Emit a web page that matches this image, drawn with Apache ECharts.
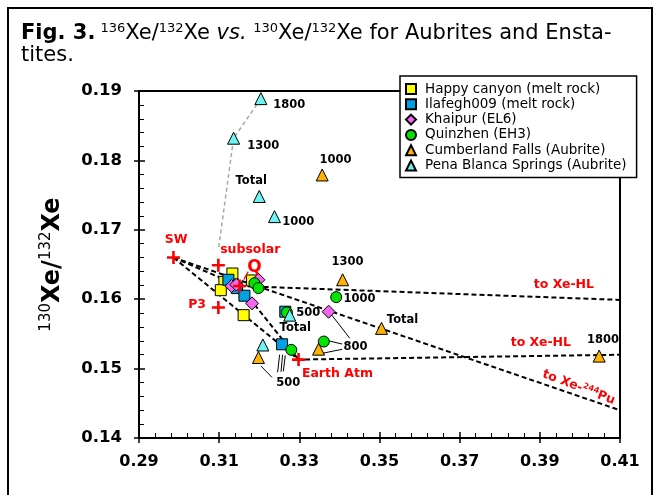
<!DOCTYPE html>
<html><head><meta charset="utf-8">
<script src="https://cdn.jsdelivr.net/npm/echarts@6/dist/echarts.min.js"></script>
<style>html,body{margin:0;padding:0;background:#fff}#c{width:660px;height:495px}</style>
</head><body><div id="c"></div>
<script>
// ---- data (x = 136Xe/132Xe, y = 130Xe/132Xe) ----
const happyCanyon = [[0.3182,0.1627],[0.3133,0.1637],[0.3113,0.1625],[0.3104,0.1613],[0.3161,0.1577]];
const ilafegh = [[0.3123,0.1628],[0.3144,0.1616],[0.3163,0.1605],[0.3265,0.1582],[0.3257,0.1535]];
const khaipur = [[0.3198,0.1628],[0.3131,0.1619],[0.3143,0.1621],[0.3182,0.1594],[0.3373,0.1582]];
const quinzhen = [[0.3188,0.1623],[0.3198,0.1616],[0.3269,0.1581],[0.3280,0.1527],[0.3392,0.1603],[0.3361,0.1539]];
const cumberland = [[0.3357,0.1779],[0.3408,0.1628],[0.3505,0.1558],[0.3348,0.1528],[0.3198,0.1516],[0.4048,0.1518]];
const penaBlanca = [[0.3204,0.1889],[0.3136,0.1832],[0.3200,0.1748],[0.3238,0.1719],[0.3276,0.1577],[0.3209,0.1534]];

const SW = [0.2986,0.1660];
const subsolar = [0.3098,0.1649];
const P3 = [0.3098,0.1588];
const Qpt = [0.3151,0.1619];
const earthAtm = [0.3298,0.1513];
const xeHLa = [0.41,0.1599];
const xeHLb = [0.41,0.1520];
const xePu = [0.41,0.1440];
const pbsTrend = [[0.3099,0.1675],[0.3136,0.1832],[0.3204,0.1889]];

const seriesNames = ['Happy canyon (melt rock)','Ilafegh009 (melt rock)','Khaipur (EL6)','Quinzhen (EH3)','Cumberland Falls (Aubrite)','Pena Blanca Springs (Aubrite)'];
const stepLabels = [
  ['1800',0.3275,0.18798],['1300',0.3210,0.18207],['1000',0.3390,0.18006],['Total',0.3180,0.17703],
  ['1000',0.32975,0.17112],['1300',0.3420,0.16536],['1000',0.3450,0.16003],['500',0.33225,0.15801],
  ['Total',0.3290,0.15585],['Total',0.35575,0.1570],['800',0.3440,0.15311],['1800',0.40575,0.15412],['500',0.32725,0.14793]
];
const redLabels = [
  ['SW',0.29925,0.16853,12.5],['subsolar',0.31775,0.16709,12.5],['Q',0.3188,0.1645,17],['P3',0.3045,0.15916,12.5],
  ['Earth Atm',0.3395,0.14922,12.5],['to Xe-HL',0.3960,0.16205,12.5],['to Xe-HL',0.39025,0.15369,12.5]
];
const leaders = [
  [[0.33775,0.15797],[0.34258,0.15437]],
  [[0.34068,0.15354],[0.33718,0.15402]],
  [[0.34068,0.15278],[0.33568,0.1522]],
  [[0.32043,0.15037],[0.32318,0.14874]],
  [[0.32508,0.1520],[0.32458,0.14947]],
  [[0.32583,0.1520],[0.32543,0.14955]],
  [[0.3265,0.1519],[0.3260,0.14960]]
];
const qLeader = [[0.31613,0.16282],[0.31725,0.16397]];

const FONT = '"DejaVu Sans", sans-serif';
const chart = echarts.init(document.getElementById('c'), null, {renderer:'canvas'});

const dash = (data) => ({type:'line', data, showSymbol:false, silent:true, z:1, animation:false,
  lineStyle:{color:'#000', width:2, type:[5,3]}, xAxisIndex:0, yAxisIndex:0});

const markerStyle = (color) => ({color, borderColor:'#000', borderWidth:1, opacity:1});
const series = [
  dash([SW,Qpt,xeHLa]), dash([SW,earthAtm,xeHLb]), dash([SW,xePu]), dash([Qpt,earthAtm]),
  {type:'line', data:pbsTrend, showSymbol:false, silent:true, z:1, animation:false,
   lineStyle:{color:'#a8a8a8', width:1.5, type:[4,3]}},
];
leaders.forEach(seg => series.push({type:'line', data:seg, showSymbol:false, silent:true, z:1, animation:false,
  lineStyle:{color:'#000', width:1}}));
series.push({type:'line', data:qLeader, showSymbol:false, silent:true, z:6, animation:false, lineStyle:{color:'#ff0000', width:1.2}});
const pts = [
  [seriesNames[0], happyCanyon, 'rect', 11, '#ffff00'],
  [seriesNames[1], ilafegh, 'rect', 11, '#00a0e4'],
  [seriesNames[2], khaipur, 'diamond', 13, '#f266f2'],
  [seriesNames[3], quinzhen, 'circle', 11, '#00e400'],
  [seriesNames[4], cumberland, 'triangle', 12, '#ffb300'],
  [seriesNames[5], penaBlanca, 'triangle', 12, '#6ef2f2'],
];
pts.forEach(([name,data,symbol,size,color],i) => series.push({
  type:'scatter', name, data, symbol, symbolSize:size, itemStyle:markerStyle(color), z:3+i*0.01, animation:false
}));
series.push({type:'scatter', data:[SW,subsolar,P3,Qpt,earthAtm], symbol:'path://M4,0h2v4h4v2h-4v4h-2v-4h-4v-2h4z',
  symbolSize:13, itemStyle:{color:'#ff0000', opacity:1}, z:5, silent:true, animation:false});
const lblBase = {show:true, position:'inside', formatter:'{b}', fontFamily:FONT, fontWeight:'bold', opacity:1,
  textBorderWidth:0, textBorderColor:'transparent', textShadowBlur:0};
series.push({type:'scatter', symbolSize:0, silent:true, z:6, animation:false, itemStyle:{color:'#000', opacity:1},
  data: stepLabels.map(([t,x,y]) => ({name:t, value:[x,y]})),
  label:Object.assign({}, lblBase, {color:'#000', fontSize:11.5})});
series.push({type:'scatter', symbolSize:0, silent:true, z:6, animation:false, itemStyle:{color:'#ff0000', opacity:1},
  data: redLabels.map(([t,x,y,fs]) => ({name:t, value:[x,y], label:{fontSize:fs}})),
  label:Object.assign({}, lblBase, {color:'#ff0000', fontSize:12.5})});
series.push({type:'scatter', symbolSize:0, silent:true, z:6, animation:false, itemStyle:{color:'#ff0000', opacity:1},
  data:[{name:'pu', value:[0.39975,0.14735]}],
  label:{show:true, position:'inside', rotate:-21, opacity:1, formatter:'{n|to Xe-}{s|244}{n|Pu}', textBorderWidth:0,
    rich:{n:{color:'#ff0000', fontFamily:FONT, fontWeight:'bold', fontSize:12.5, lineHeight:14, verticalAlign:'bottom', textBorderWidth:0},
          s:{color:'#ff0000', fontFamily:FONT, fontWeight:'bold', fontSize:8, lineHeight:8, verticalAlign:'top', textBorderWidth:0}}}});

const axisBase = (min,max,interval) => ({type:'value', min, max, interval, scale:false,
  splitLine:{show:false}});

const option = {
  animation:false,
  backgroundColor:'#fff',
  title:{
    left:21, top:17, padding:[5,0,5,0],
    text:'{b|Fig. 3.} {s|136}{n|Xe/}{s|132}{n|Xe }{i|vs.}{n| }{s|130}{n|Xe/}{s|132}{n|Xe for Aubrites and Ensta-}\n{n|tites.}',
    textStyle:{rich:{
      b:{fontFamily:FONT, fontWeight:'bold', fontSize:21, lineHeight:22, color:'#000', verticalAlign:'bottom'},
      n:{fontFamily:FONT, fontWeight:'normal', fontSize:21, lineHeight:22, color:'#000', verticalAlign:'bottom'},
      i:{fontFamily:FONT, fontStyle:'italic', fontWeight:'normal', fontSize:21, lineHeight:22, color:'#000', verticalAlign:'bottom'},
      s:{fontFamily:FONT, fontWeight:'normal', fontSize:13, lineHeight:12, color:'#000', verticalAlign:'top'}
    }}
  },
  legend:{
    data:seriesNames, orient:'vertical', left:400, top:76,
    itemWidth:10, itemHeight:10, itemGap:1.3,
    backgroundColor:'#fff', borderColor:'#000', borderWidth:1.5, padding:[6,10,5,5],
    textStyle:{fontFamily:FONT, fontSize:13.5, color:'#000', lineHeight:13, padding:[0,0,0,4]},
    selectedMode:false
  },
  grid:{left:139, right:40, top:91, bottom:57, show:true, borderColor:'#000', borderWidth:2, containLabel:false},
  xAxis:[
    Object.assign(axisBase(0.29,0.41,0.02), {
      axisLine:{lineStyle:{color:'#000', width:2}},
      axisTick:{inside:true, length:6, lineStyle:{color:'#000', width:1.5}},
      minorTick:{show:true, splitNumber:5, length:5, lineStyle:{color:'#000', width:1}},
      axisLabel:{margin:16, color:'#000', fontFamily:FONT, fontWeight:'bold', fontSize:16, formatter:v=>v.toFixed(2)}
    }),
    Object.assign(axisBase(0.29,0.41,0.02), {position:'bottom',
      axisLine:{show:false}, axisTick:{inside:false, length:5, lineStyle:{color:'#000', width:1.5}}, axisLabel:{show:false}})
  ],
  yAxis:[
    Object.assign(axisBase(0.14,0.19,0.01), {
      axisLine:{lineStyle:{color:'#000', width:2}},
      axisTick:{inside:true, length:6, lineStyle:{color:'#000', width:1.5}},
      minorTick:{show:true, splitNumber:5, length:5, lineStyle:{color:'#000', width:1}},
      axisLabel:{margin:17, color:'#000', fontFamily:FONT, fontWeight:'bold', fontSize:16.5, formatter:v=>v.toFixed(2)},
      name:'{s|130}{b|Xe/}{s|132}{b|Xe}', nameLocation:'middle', nameGap:74, nameRotate:90,
      nameTextStyle:{rich:{
        b:{fontFamily:FONT, fontWeight:'bold', fontSize:24, lineHeight:26, color:'#000', verticalAlign:'bottom'},
        s:{fontFamily:FONT, fontWeight:'normal', fontSize:15, lineHeight:15, color:'#000', verticalAlign:'top'}
      }}
    }),
    Object.assign(axisBase(0.14,0.19,0.01), {position:'left',
      axisLine:{show:false}, axisTick:{inside:false, length:5, lineStyle:{color:'#000', width:1.5}}, axisLabel:{show:false}})
  ],
  graphic:[{type:'rect', shape:{x:8, y:8, width:644, height:520}, style:{fill:'none', stroke:'#000', lineWidth:2}, silent:true, z:100}],
  series
};
chart.setOption(option);
</script>
</body></html>
